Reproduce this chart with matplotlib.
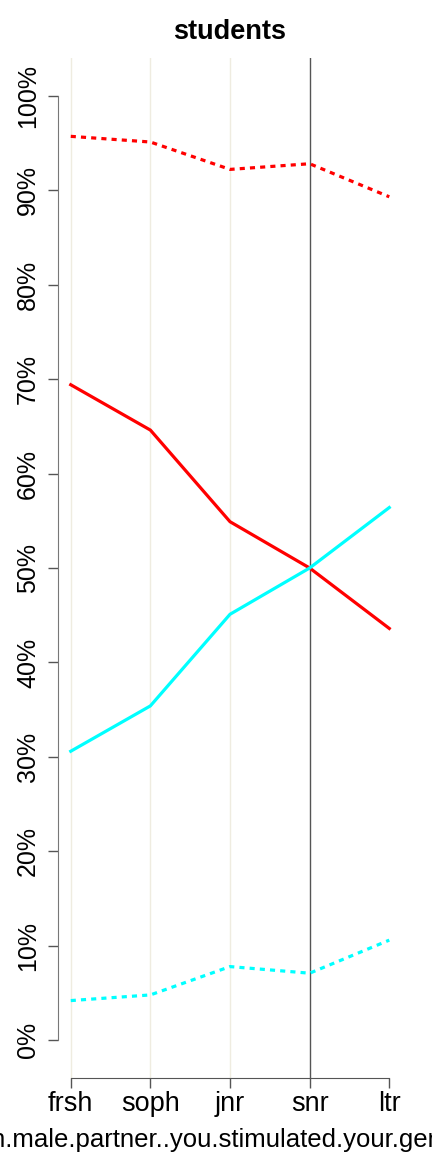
import matplotlib.pyplot as plt
import numpy as np

plt.rcParams['font.family'] = ['Liberation Sans', 'DejaVu Sans']

# Data
years = ["frsh", "soph", "jnr", "snr", "ltr"]
red_dotted = [95.7, 95.1, 92.2, 92.8, 89.3]
red_solid = [69.4, 64.6, 54.9, 50.0, 43.6]
cyan_solid = [30.6, 35.4, 45.1, 50.0, 56.4]
cyan_dotted = [4.2, 4.8, 7.8, 7.1, 10.6]
yticks = [0, 10, 20, 30, 40, 50, 60, 70, 80, 90, 100]

fig = plt.figure(figsize=(4.32, 11.52), dpi=100)
ax = fig.add_axes([0.1343, 0.0642, 0.7963, 0.8855])

x = np.arange(1, len(years) + 1)

# vertical guide lines
for i, xi in enumerate(x[:4]):
    c = '#555555' if i == 3 else '#efece0'
    ax.axvline(xi, color=c, lw=1.0, zorder=1)

ax.plot(x, red_dotted, color='red', lw=2.3, ls=(0, (1.6, 1.6)), zorder=3)
ax.plot(x, red_solid, color='red', lw=2.3, zorder=3)
ax.plot(x, cyan_solid, color='cyan', lw=2.3, zorder=3)
ax.plot(x, cyan_dotted, color='cyan', lw=2.3, ls=(0, (1.6, 1.6)), zorder=3)

ax.set_xlim(0.84, 5.16)
ax.set_ylim(-4, 104)

ax.set_xticks(x)
ax.set_xticklabels(years)
ax.set_yticks(yticks)
ax.set_yticklabels([f"{v}%" for v in yticks])

for s in ['top', 'right']:
    ax.spines[s].set_visible(False)
ax.spines['left'].set_bounds(0, 100)
ax.spines['bottom'].set_bounds(1, 5)
ax.spines['left'].set_color('#777777')
ax.spines['bottom'].set_color('#555555')
ax.tick_params(axis='both', colors='#555555', labelcolor='black', length=7, width=1)
ax.tick_params(axis='y', pad=6, labelsize=18, labelrotation=90)
ax.tick_params(axis='x', pad=2, labelsize=19.5)
for lbl in ax.get_yticklabels():
    lbl.set_va('center')

ax.set_title("students", fontsize=19.5, fontweight='bold', pad=14)
ax.set_xlabel("On.male.partner..you.stimulated.your.genitals", fontsize=18.5, labelpad=8)

fig.savefig('out.png', dpi=100)
